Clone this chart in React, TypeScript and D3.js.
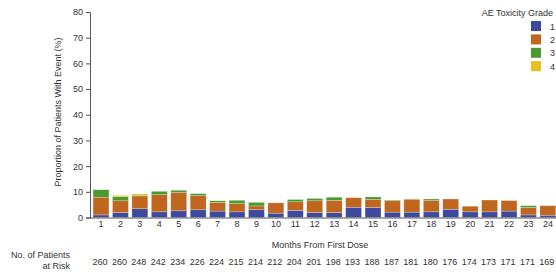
import React, { useEffect, useRef } from 'react';
import * as d3 from 'd3';

const months = ['1', '2', '3', '4', '5', '6', '7', '8', '9', '10', '11', '12', '13', '14', '15', '16', '17', '18', '19', '20', '21', '22', '23', '24'];
const grade1 = [1.0, 1.9, 3.4, 2.2, 2.6, 3.0, 2.5, 2.2, 3.0, 1.7, 2.7, 1.9, 1.9, 4.0, 3.9, 2.1, 2.1, 2.2, 3.2, 2.2, 2.2, 2.5, 1.0, 0.9];
const grade2 = [6.9, 4.6, 5.0, 6.7, 7.1, 5.5, 3.4, 3.2, 1.5, 4.0, 3.4, 4.6, 4.8, 3.7, 3.2, 4.4, 5.0, 4.4, 4.0, 2.2, 4.6, 4.1, 2.9, 3.7];
const grade3 = [2.9, 1.6, 0.3, 1.3, 0.9, 0.8, 0.6, 1.3, 1.4, 0, 0.9, 0.9, 1.2, 0, 0.9, 0.3, 0, 0.6, 0, 0, 0, 0, 0.7, 0];
const grade4 = [0, 0.5, 0.5, 0, 0, 0, 0, 0, 0, 0, 0, 0, 0, 0, 0, 0, 0, 0, 0, 0, 0, 0, 0, 0];
const atRisk = [260, 260, 248, 242, 234, 226, 224, 215, 214, 212, 204, 201, 198, 193, 188, 187, 181, 180, 176, 174, 173, 171, 171, 169];
const gradeLabels = ['1', '2', '3', '4'];
const yTicks = [0, 10, 20, 30, 40, 50, 60, 70, 80];

const colors = ['#3d4a9f', '#c0661f', '#4b9a31', '#e6bf1c'];

const App = () => {
  const ref = useRef<SVGSVGElement>(null);

  useEffect(() => {
    const width = 556;
    const height = 276;
    const font = 'Liberation Sans, Arial, sans-serif';
    const fs = 9;
    const textColor = '#333';

    const svg = d3.select(ref.current);
    svg.selectAll('*').remove();
    svg.attr('width', width).attr('height', height);

    const x = d3.scaleBand<string>()
      .domain(months)
      .range([91.3, 557.6])
      .paddingInner(0.18)
      .paddingOuter(0.09);

    const y = d3.scaleLinear().domain([0, 80]).range([217.5, 12]);

    const rows = months.map((m, i) => ({ month: m, g1: grade1[i], g2: grade2[i], g3: grade3[i], g4: grade4[i] }));
    const stacked = d3.stack<any>().keys(['g1', 'g2', 'g3', 'g4'])(rows);

    svg.append('g')
      .selectAll('g')
      .data(stacked)
      .join('g')
      .attr('fill', (d, i) => colors[i])
      .selectAll('rect')
      .data(d => d.filter(s => s[1] - s[0] > 0))
      .join('rect')
      .attr('x', d => x(d.data.month)!)
      .attr('width', x.bandwidth())
      .attr('y', d => y(d[1]))
      .attr('height', d => y(d[0]) - y(d[1]))
      .attr('stroke', 'rgba(255,255,255,0.5)')
      .attr('stroke-width', 0.5);

    // y axis
    const yAxis = svg.append('g')
      .attr('transform', 'translate(90,0)')
      .call(d3.axisLeft(y).tickValues(yTicks).tickSize(4).tickPadding(3));
    yAxis.select('.domain').attr('stroke', '#555');
    yAxis.selectAll('.tick line').attr('stroke', '#555');
    yAxis.selectAll('text').attr('font-family', font).attr('font-size', fs).attr('fill', textColor);

    // x axis
    const xAxis = svg.append('g')
      .attr('transform', `translate(0,${y(0)})`)
      .call(d3.axisBottom(x).tickSize(0).tickPadding(3));
    xAxis.select('.domain').attr('stroke', '#555').attr('d', `M90,0.5H556`);
    xAxis.selectAll('text').attr('font-family', font).attr('font-size', fs).attr('fill', textColor);

    svg.append('text')
      .attr('x', 320)
      .attr('y', 247.5)
      .attr('text-anchor', 'middle')
      .attr('font-family', font)
      .attr('font-size', fs)
      .attr('fill', textColor)
      .text('Months From First Dose');

    svg.append('text')
      .attr('transform', 'translate(61,112) rotate(-90)')
      .attr('text-anchor', 'middle')
      .attr('font-family', font)
      .attr('font-size', fs)
      .attr('fill', textColor)
      .text('Proportion of Patients With Event (%)');

    // patients at risk
    svg.append('text')
      .attr('x', 70)
      .attr('y', 258)
      .attr('text-anchor', 'end')
      .attr('font-family', font)
      .attr('font-size', fs)
      .attr('fill', textColor)
      .text('No. of Patients');
    svg.append('text')
      .attr('x', 70)
      .attr('y', 269)
      .attr('text-anchor', 'end')
      .attr('font-family', font)
      .attr('font-size', fs)
      .attr('fill', textColor)
      .text('at Risk');

    svg.append('g')
      .selectAll('text')
      .data(atRisk)
      .join('text')
      .attr('x', (d, i) => x(months[i])! + x.bandwidth() / 2 - 1)
      .attr('y', 264.5)
      .attr('text-anchor', 'middle')
      .attr('font-family', font)
      .attr('font-size', fs)
      .attr('fill', textColor)
      .text(d => d);

    // legend
    svg.append('text')
      .attr('x', 553)
      .attr('y', 15.5)
      .attr('text-anchor', 'end')
      .attr('font-family', font)
      .attr('font-size', fs)
      .attr('fill', textColor)
      .text('AE Toxicity Grade');

    const legend = svg.append('g')
      .selectAll('g')
      .data(gradeLabels)
      .join('g')
      .attr('transform', (d, i) => `translate(531,${21 + i * 13.4})`);
    legend.append('rect')
      .attr('width', 10)
      .attr('height', 10)
      .attr('fill', (d, i) => colors[i]);
    legend.append('text')
      .attr('x', 19)
      .attr('y', 8.5)
      .attr('font-family', font)
      .attr('font-size', fs)
      .attr('fill', textColor)
      .text(d => d);
  }, []);

  return (
    <div style={{ position: 'absolute', left: 0, top: 0 }}>
      <svg ref={ref} style={{ display: 'block' }}></svg>
    </div>
  );
};

export default App;
